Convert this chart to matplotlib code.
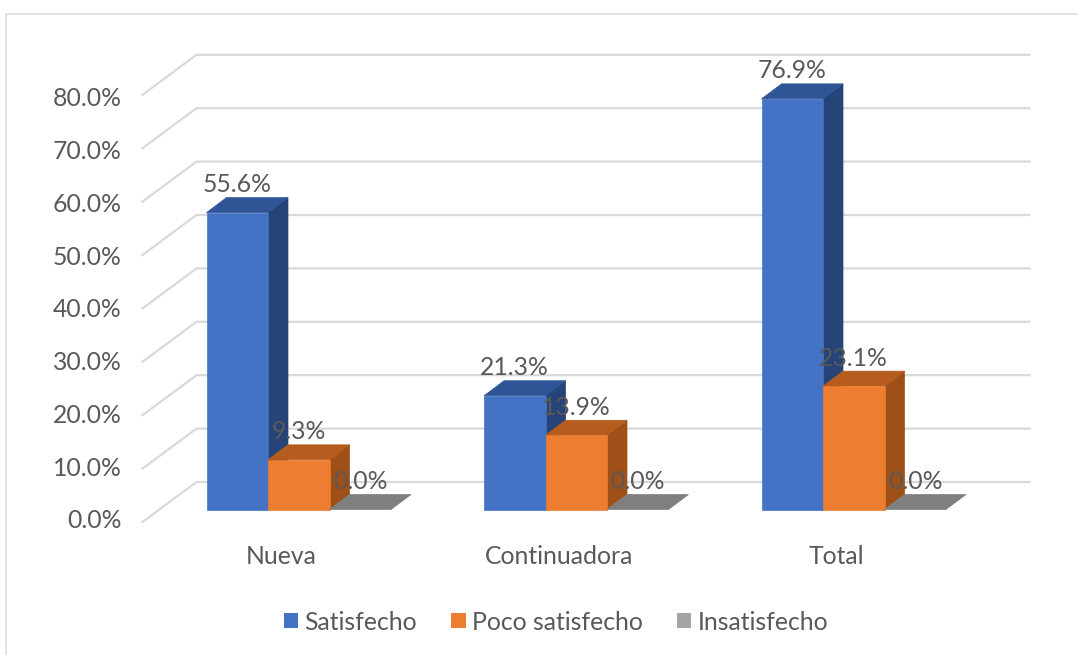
import numpy as np
import matplotlib
matplotlib.use("Agg")
import matplotlib.pyplot as plt
from matplotlib.patches import Patch

categories = ["Nueva", "Continuadora", "Total"]
series = ["Satisfecho", "Poco satisfecho", "Insatisfecho"]
satisfecho = [55.6, 21.3, 76.9]
poco = [9.3, 13.9, 23.1]
insatisfecho = [0.0, 0.0, 0.0]
ticks = [0, 10, 20, 30, 40, 50, 60, 70, 80]

# front, top, side colours
colores = [("#4472C4", "#2F5597", "#264478"),
           ("#ED7D31", "#B65C1E", "#9E5018"),
           ("#A5A5A5", "#7F7F7F", "#6E6E6E")]
texto = "#595959"
rejilla = "#D9D9D9"

plt.rcParams["font.family"] = ["Lato", "DejaVu Sans"]

W, H = 1078, 655
PX_X = 277.5  # px per category
PX_Y = 5.34   # px per 1 %
X0, Y0 = 206.5, 509.5
FS = 17.8

fig = plt.figure(figsize=(W / 100, H / 100), dpi=100)
ax = fig.add_axes([0, 0, 1, 1])
ax.set_xlim(-X0 / PX_X, (W - X0) / PX_X)
ax.set_ylim((Y0 - H) / PX_Y, Y0 / PX_Y)
ax.axis("off")

dx = 1 / PX_X  # one pixel in data units
dy = 1 / PX_Y
ancho = 61.5 * dx
prof_x, prof_y = 20 * dx, 15 * dy

# chart frame
ax.plot([(6 - X0) * dx, (6 - X0) * dx, (W - X0) * dx],
        [(Y0 - H) * dy, (Y0 - 14) * dy, (Y0 - 14) * dy], color="#DDDDDD", lw=1.2)

# back wall grid and the diagonal side wall
for t in ticks:
    xs = [-64 * dx, -10 * dx, 823 * dx]
    ys = [t - 12.5 * dy, t + 27.5 * dy, t + 27.5 * dy]
    ax.plot(xs, ys, color=rejilla, lw=1.6, zorder=1, solid_joinstyle="miter")
    ax.text(-85 * dx, t * 0.988 - 11.5 * dy, f"{t:.1f}%", ha="right", va="center",
            fontsize=FS, color=texto)

valores = [satisfecho, poco, insatisfecho]
for g in range(len(categories)):
    for s in range(len(series)):
        v = valores[s][g]
        x1 = g + s * ancho
        x2 = x1 + ancho
        front, top, side = colores[s]
        z = 2 + g + s * 0.1
        if v > 0:
            ax.fill([x1, x2, x2, x1], [0, 0, v, v], color=front, lw=0.5, zorder=z + 0.02)
            ax.fill([x2, x2 + prof_x, x2 + prof_x, x2],
                    [0, prof_y, v + prof_y, v], color=side, lw=0.5, zorder=z)
        ax.fill([x1, x2, x2 + prof_x, x1 + prof_x],
                [v, v, v + prof_y, v + prof_y], color=top, lw=0.5, zorder=z + 0.01)
        ax.text(x1 + ancho / 2, v + 28 * dy, f"{v:.1f}%", ha="center", va="center",
                fontsize=FS, color=texto, zorder=20)
    ax.text(g + 75 * dx, -47.5 * dy, categories[g], ha="center", va="center",
            fontsize=FS, color=texto)

handles = [Patch(facecolor=colores[i][0], label=series[i]) for i in range(3)]
ax.legend(handles=handles, ncol=3, frameon=False, loc="center",
          bbox_to_anchor=(556 / W, 1 - 622 / H), bbox_transform=fig.transFigure,
          fontsize=FS, labelcolor=texto, handlelength=0.57, handleheight=0.57,
          handletextpad=0.25, columnspacing=1.4)

fig.savefig("out.png", dpi=100)
